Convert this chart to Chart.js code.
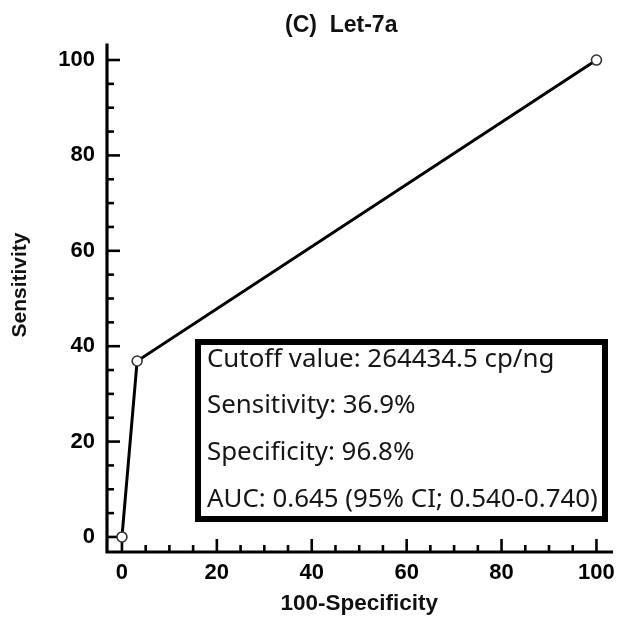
<!DOCTYPE html>
<html><head><meta charset="utf-8">
<script src="https://cdn.jsdelivr.net/npm/chart.js@4"></script>
<style>html,body{margin:0;padding:0;background:#fff}#wrap{width:618px;height:621px;position:relative}</style>
</head><body><div id="wrap"><canvas id="c"></canvas></div>
<script>
const chartTitle = '(C)  Let-7a';
const xTitle = '100-Specificity';
const yTitle = 'Sensitivity';
const fpr = [0, 3.2, 100];
const sensitivity = [0, 36.9, 100];
const majorTicks = [0, 20, 40, 60, 80, 100];
const minorStep = 5;
const boxLines = [
  'Cutoff value: 264434.5 cp/ng',
  'Sensitivity: 36.9%',
  'Specificity: 96.8%',
  'AUC: 0.645 (95% CI; 0.540-0.740)'
];
const axisMin = -3.15, axisMax = 103.15;

const SANS = '"Liberation Sans", Arial, sans-serif';

const decor = {
  id: 'decor',
  beforeDatasetsDraw(chart) {
    const {ctx, chartArea: a, scales: {x, y}} = chart;
    ctx.save();
    ctx.strokeStyle = '#000';
    ctx.lineWidth = 2.6;
    ctx.lineCap = 'butt';
    for (let v = majorTicks[0]; v <= majorTicks[majorTicks.length - 1]; v += minorStep) {
      const len = majorTicks.includes(v) ? 13 : 7;
      const px = x.getPixelForValue(v);
      ctx.beginPath(); ctx.moveTo(px, a.bottom); ctx.lineTo(px, a.bottom - len); ctx.stroke();
      const py = y.getPixelForValue(v);
      ctx.beginPath(); ctx.moveTo(a.left, py); ctx.lineTo(a.left + len, py); ctx.stroke();
    }
    ctx.lineWidth = 3.2;
    ctx.lineCap = 'square';
    ctx.beginPath();
    ctx.moveTo(a.left, a.top);
    ctx.lineTo(a.left, a.bottom);
    ctx.lineTo(a.right, a.bottom);
    ctx.stroke();
    ctx.restore();
  },
  afterDraw(chart) {
    const {ctx} = chart;
    ctx.save();
    // title
    ctx.fillStyle = '#111';
    ctx.font = 'bold 23px ' + SANS;
    ctx.textAlign = 'left';
    ctx.textBaseline = 'alphabetic';
    ctx.fillText(chartTitle, 285, 32);
    // y title
    ctx.save();
    ctx.translate(20, 285);
    ctx.rotate(-Math.PI / 2);
    ctx.textAlign = 'center';
    ctx.textBaseline = 'middle';
    ctx.font = 'bold 21px ' + SANS;
    ctx.fillText(yTitle, 0, 0);
    ctx.restore();
    // info box
    const bx = 195, by = 339, bw = 413, bh = 183, lw = 6;
    ctx.fillStyle = '#fff';
    ctx.fillRect(bx, by, bw, bh);
    ctx.strokeStyle = '#000';
    ctx.lineWidth = lw;
    ctx.strokeRect(bx + lw / 2, by + lw / 2, bw - lw, bh - lw);
    let fs = 24;
    ctx.font = fs + 'px "Noto Sans", "Open Sans", sans-serif';
    const w = ctx.measureText(boxLines[3]).width;
    fs = Math.min(26, fs * 391 / w);
    ctx.font = fs.toFixed(2) + 'px "Noto Sans", "Open Sans", sans-serif';
    ctx.fillStyle = '#161616';
    ctx.textAlign = 'left';
    ctx.textBaseline = 'alphabetic';
    const baselines = [367, 413, 460, 507];
    boxLines.forEach((t, i) => ctx.fillText(t, 207, baselines[i]));
    ctx.restore();
  }
};

new Chart(document.getElementById('c'), {
  type: 'scatter',
  data: {
    datasets: [{
      data: fpr.map((v, i) => ({x: v, y: sensitivity[i]})),
      showLine: true,
      borderColor: '#000',
      borderWidth: 3,
      pointRadius: 5,
      pointBorderWidth: 1.6,
      pointBorderColor: '#333',
      pointBackgroundColor: '#fff',
      clip: false
    }]
  },
  options: {
    responsive: true,
    maintainAspectRatio: false,
    animation: false,
    layout: {padding: {left: 0, top: 45, right: 6, bottom: 0}},
    plugins: {legend: {display: false}, tooltip: {enabled: false}, title: {display: false}},
    scales: {
      x: {
        type: 'linear', min: axisMin, max: axisMax,
        afterBuildTicks: s => { s.ticks = majorTicks.map(v => ({value: v})); },
        afterFit: s => { s.height = 69; s.paddingLeft = 0; s.paddingRight = 0; },
        grid: {display: false, drawTicks: false},
        border: {display: false},
        ticks: {padding: 8, color: '#000', font: {family: SANS, size: 22, weight: 'bold'}, maxRotation: 0, autoSkip: false},
        title: {display: true, text: xTitle, color: '#111', padding: {top: 0, bottom: 4}, font: {family: SANS, size: 22.5, weight: 'bold'}}
      },
      y: {
        type: 'linear', min: axisMin, max: axisMax,
        afterBuildTicks: s => { s.ticks = majorTicks.map(v => ({value: v})); },
        afterFit: s => { s.width = 107; s.paddingTop = 0; s.paddingBottom = 0; },
        grid: {display: false, drawTicks: false},
        border: {display: false},
        ticks: {padding: 12, color: '#000', font: {family: SANS, size: 22, weight: 'bold'}, autoSkip: false},
        title: {display: false}
      }
    }
  },
  plugins: [decor]
});
</script>
</body></html>
